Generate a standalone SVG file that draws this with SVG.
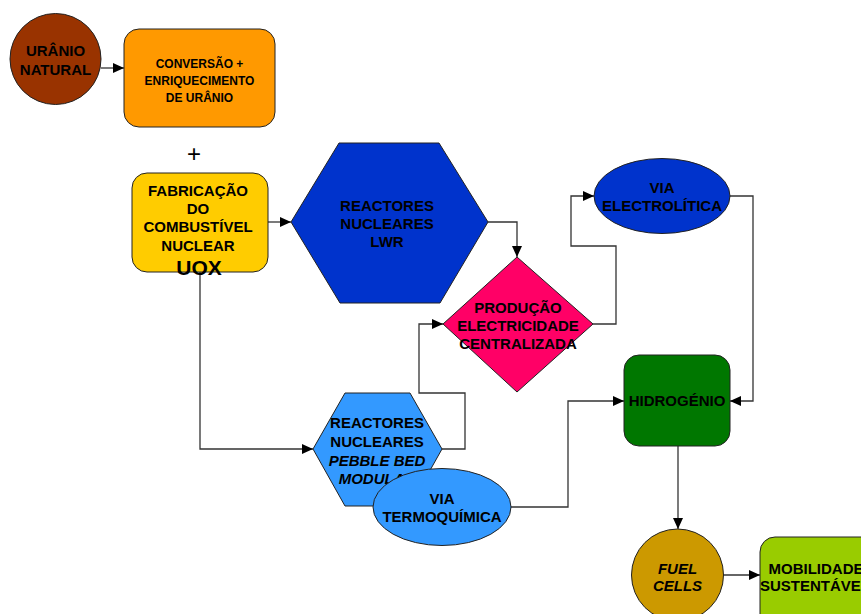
<svg xmlns="http://www.w3.org/2000/svg" width="861" height="614" viewBox="0 0 861 614">
  <style>
    .lbl { font-family: "Liberation Sans", Arial, sans-serif; font-weight: bold; font-size: 15px; fill: #000; text-anchor: middle; }
    .sm { font-size: 12px; }
    .big { font-size: 21px; }
    .it { font-style: italic; }
    .shape { stroke: #222; stroke-width: 1; }
    .wire { fill: none; stroke: #333; stroke-width: 1.3; }
  </style>
  <defs>
    <marker id="arrow" markerUnits="userSpaceOnUse" markerWidth="12" markerHeight="10" refX="11" refY="5" orient="auto">
      <path d="M0,0 L11,5 L0,10 Z" fill="#000"/>
    </marker>
  </defs>
  <rect width="861" height="614" fill="#fff"/>

  <!-- connectors -->
  <g id="connectors">
    <path class="wire" d="M101,68 L124,68" marker-end="url(#arrow)"/>
    <path class="wire" d="M268,222 L291,222" marker-end="url(#arrow)"/>
    <path class="wire" d="M488,222 L517,222 L517,257" marker-end="url(#arrow)"/>
    <path class="wire" d="M593,324 L616,324 L616,246 L571,246 L571,196 L594,196" marker-end="url(#arrow)"/>
    <path class="wire" d="M730,196 L753,196 L753,401 L730,401" marker-end="url(#arrow)"/>
    <path class="wire" d="M200,272 L200,449 L313,449" marker-end="url(#arrow)"/>
    <path class="wire" d="M442,449 L465,449 L465,393 L419,393 L419,324 L443,324" marker-end="url(#arrow)"/>
    <path class="wire" d="M511,507 L568,507 L568,401 L624,401" marker-end="url(#arrow)"/>
    <path class="wire" d="M678,446 L678,529" marker-end="url(#arrow)"/>
    <path class="wire" d="M723,575 L760,575" marker-end="url(#arrow)"/>
  </g>

  <g id="uranio-natural">
    <circle class="shape" cx="55.5" cy="59" r="45.5" fill="#993300"/>
    <text class="lbl" x="55.5" y="55.5">URÂNIO</text>
    <text class="lbl" x="55.5" y="74.5">NATURAL</text>
  </g>

  <g id="conversao">
    <rect class="shape" x="124" y="29" width="151" height="98" rx="15" fill="#FF9900"/>
    <text class="lbl sm" x="199.5" y="67.5">CONVERSÃO +</text>
    <text class="lbl sm" x="199.5" y="84.5">ENRIQUECIMENTO</text>
    <text class="lbl sm" x="199.5" y="101.5">DE URÂNIO</text>
  </g>

  <text x="194" y="162" font-family="Liberation Sans, Arial, sans-serif" font-size="24" text-anchor="middle" fill="#000">+</text>

  <g id="fabricacao">
    <rect class="shape" x="132" y="173" width="136" height="99" rx="15" fill="#FFCC00"/>
    <text class="lbl" x="198" y="195.5">FABRICAÇÃO</text>
    <text class="lbl" x="198" y="213.5">DO</text>
    <text class="lbl" x="198" y="231.5">COMBUSTÍVEL</text>
    <text class="lbl" x="198" y="250.5">NUCLEAR</text>
    <text class="lbl big" x="199" y="274.5">UOX</text>
  </g>

  <g id="reactores-lwr">
    <polygon class="shape" points="291,222 339,143 439,143 488,222 440,303 340,303" fill="#0033CC"/>
    <text class="lbl" x="387" y="210.5">REACTORES</text>
    <text class="lbl" x="387" y="228.5">NUCLEARES</text>
    <text class="lbl" x="387" y="246.5">LWR</text>
  </g>

  <g id="producao">
    <polygon class="shape" points="517,257 593,324 517,392 443,324" fill="#FF0066"/>
    <text class="lbl" x="518" y="312.5">PRODUÇÃO</text>
    <text class="lbl" x="518" y="331">ELECTRICIDADE</text>
    <text class="lbl" x="518" y="348.5">CENTRALIZADA</text>
  </g>

  <g id="via-electrolitica">
    <ellipse class="shape" cx="662" cy="196" rx="68" ry="37.5" fill="#0033CC"/>
    <text class="lbl" x="662" y="193">VIA</text>
    <text class="lbl" x="662" y="211">ELECTROLÍTICA</text>
  </g>

  <g id="hidrogenio">
    <rect class="shape" x="624" y="355" width="106" height="91" rx="15" fill="#007700"/>
    <text class="lbl" x="677" y="406">HIDROGÉNIO</text>
  </g>

  <g id="reactores-pebble">
    <polygon class="shape" points="313,449 345,393 410,393 442,449 410,506 345,506" fill="#3399FF"/>
    <text class="lbl" x="377" y="427.5">REACTORES</text>
    <text class="lbl" x="377" y="446.5">NUCLEARES</text>
    <text class="lbl it" x="377" y="465.5">PEBBLE BED</text>
    <text class="lbl it" x="377" y="483.5">MODULAR</text>
  </g>

  <g id="via-termoquimica">
    <ellipse class="shape" cx="442" cy="507" rx="69" ry="38.5" fill="#3399FF"/>
    <text class="lbl" x="442" y="503.5">VIA</text>
    <text class="lbl" x="442" y="522">TERMOQUÍMICA</text>
  </g>

  <g id="fuel-cells">
    <circle class="shape" cx="677.5" cy="575" r="46" fill="#CC9900"/>
    <text class="lbl it" x="677.5" y="573.5">FUEL</text>
    <text class="lbl it" x="677.5" y="590.5">CELLS</text>
  </g>

  <g id="mobilidade">
    <rect class="shape" x="760" y="537" width="116" height="92" rx="15" fill="#99CC00"/>
    <text class="lbl" x="816" y="573.5">MOBILIDADE</text>
    <text class="lbl" x="815" y="590.5">SUSTENTÁVEL</text>
  </g>
</svg>
